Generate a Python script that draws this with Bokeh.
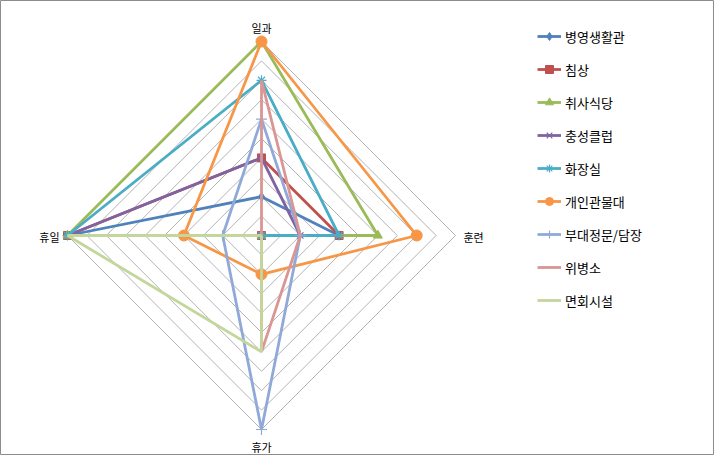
import numpy as np
from bokeh.plotting import figure
from bokeh.models import Range1d
from bokeh.core.properties import value
from bokeh.embed import file_html
from bokeh.resources import INLINE

# ---- data ----
categories = ["일과", "훈련", "휴가", "휴일"]
series_names = ["병영생활관", "침상", "취사식당", "충성클럽", "화장실",
                "개인관물대", "부대정문/담장", "위병소", "면회시설"]
barracks = [2, 4, 0, 10]
bunk = [4, 4, 0, 10]
dining = [10, 6, 0, 10]
club = [4, 2, 0, 10]
toilet = [8, 4, 0, 10]
locker = [10, 8, 2, 4]
gate = [6, 2, 10, 2]
guard = [8, 2, 6, 0]
visit = [0, 0, 6, 10]
grid_levels = [1, 2, 3, 4, 5, 6, 7, 8, 9, 10]

series_values = [barracks, bunk, dining, club, toilet, locker, gate, guard, visit]
colors = ["#4F81BD", "#C0504D", "#9BBB59", "#8064A2", "#4BACC6",
          "#F79646", "#91A9D8", "#D99694", "#C3D69B"]
markers = ["diamond", "square", "triangle", "x", "asterisk", "circle", "cross", None, None]
msizes = [9, 8, 9, 9, 10, 11, 11, 0, 0]

FONT = "Noto Sans CJK KR"
W, H = 714, 455
CX, CY, R = 261, 235, 194.0
MAXV = 10.0
unit = R / MAXV

angles = np.pi / 2 - np.arange(len(categories)) * np.pi / 2


def to_xy(vals):
    v = np.asarray(vals, dtype=float)
    return v * np.cos(angles), v * np.sin(angles)


p = figure(width=W, height=H, output_backend="svg", toolbar_location=None,
           x_range=Range1d(-CX / unit, (W - CX) / unit),
           y_range=Range1d(-(H - CY) / unit, CY / unit),
           min_border=0)
p.axis.visible = False
p.grid.visible = False
p.outline_line_color = "#8C8C8C"
p.outline_line_width = 1
p.background_fill_color = "white"
p.border_fill_color = "white"

# grid diamonds
gx, gy = [], []
for lv in grid_levels:
    x, y = to_xy([lv] * len(categories))
    gx.append(list(x) + [x[0]])
    gy.append(list(y) + [y[0]])
p.multi_line(gx, gy, line_color="#A0A0A0", line_width=0.8)

# series
for name, vals, col, mk, ms in zip(series_names, series_values, colors, markers, msizes):
    x, y = to_xy(vals)
    xs = list(x) + [x[0]]
    ys = list(y) + [y[0]]
    p.line(xs, ys, line_color=col, line_width=2.8, legend_label=name)
    if mk is not None:
        if mk in ("x", "asterisk", "cross"):
            p.scatter(list(x), list(y), marker=mk, size=ms, line_color=col,
                      line_width=1.2, fill_color=None, legend_label=name)
        else:
            p.scatter(list(x), list(y), marker=mk, size=ms, line_color=col,
                      fill_color=col, legend_label=name)

# category labels
lx, ly = to_xy([MAXV] * len(categories))
offsets = [(0, -14, "center"), (8, 1, "left"), (0, 17, "center"), (-8, 1, "right")]
for cat, x, y, (dx, dy, al) in zip(categories, lx, ly, offsets):
    p.text([x], [y], text=[cat], text_font=value(FONT), text_font_size="11px",
           text_color="#000000", text_align=al, text_baseline="middle",
           x_offset=dx, y_offset=dy)

lg = p.legend[0]
lg.location = (537, 145)
lg.padding = 0
lg.margin = 0
lg.spacing = 13
lg.glyph_width = 24
lg.glyph_height = 20
lg.label_height = 20
lg.label_standoff = 4
lg.label_text_font = FONT
lg.label_text_font_size = "13px"
lg.label_text_color = "#000000"
lg.border_line_color = None
lg.background_fill_alpha = 0

open("out.html", "w").write(file_html(p, INLINE))
